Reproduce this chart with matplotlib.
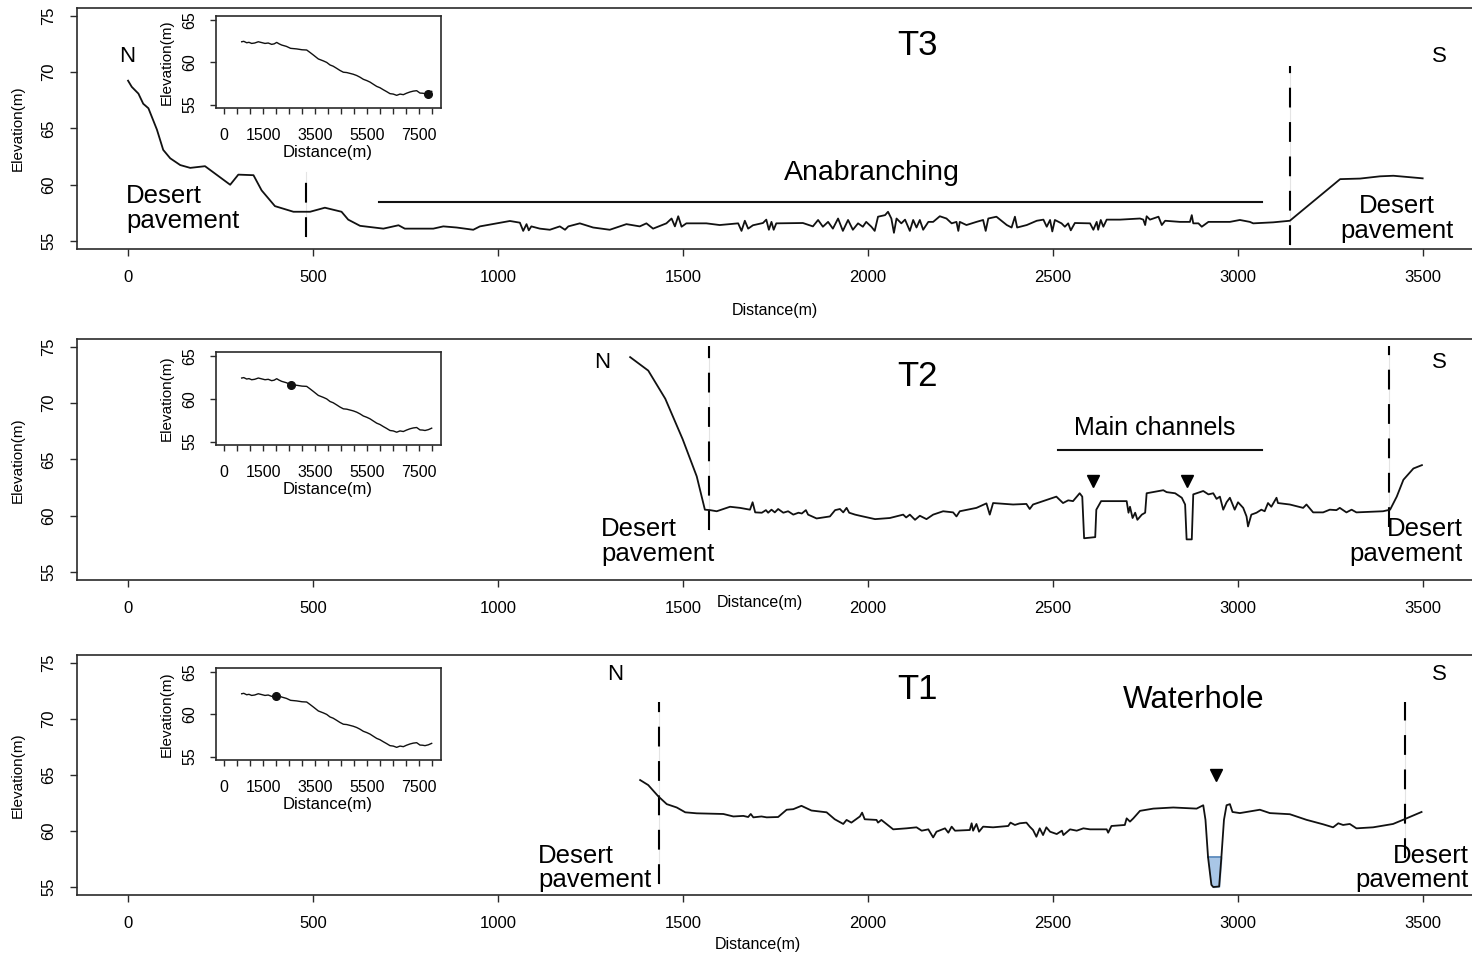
import numpy as np
import matplotlib
matplotlib.use('Agg')
import matplotlib.pyplot as plt

plt.rcParams['font.family'] = ['Liberation Sans', 'DejaVu Sans']

# ---------------------------------------------------------------
# transect profiles (distance m, elevation m)
t3_dist = [0, 10, 28, 41, 55, 78, 95, 114, 141, 168,
           208, 276, 298, 339, 361, 397, 447, 492, 532, 577,
           595, 627, 690, 731, 748, 825, 852, 888, 933, 951,
           996, 1032, 1059, 1068, 1077, 1083, 1090, 1113, 1140, 1167,
           1181, 1190, 1221, 1257, 1302, 1347, 1383, 1401, 1419, 1455,
           1469, 1478, 1487, 1496, 1509, 1563, 1599, 1649, 1658, 1667,
           1676, 1689, 1716, 1725, 1732, 1739, 1745, 1752, 1824, 1851,
           1865, 1878, 1892, 1905, 1919, 1932, 1946, 1959, 1973, 1986,
           1995, 2009, 2018, 2027, 2046, 2054, 2063, 2070, 2077, 2090,
           2100, 2113, 2122, 2131, 2140, 2149, 2163, 2176, 2194, 2212,
           2226, 2239, 2244, 2248, 2266, 2293, 2311, 2318, 2325, 2347,
           2375, 2388, 2397, 2403, 2429, 2456, 2474, 2483, 2492, 2498,
           2505, 2523, 2532, 2541, 2548, 2559, 2600, 2609, 2618, 2622,
           2629, 2636, 2645, 2681, 2735, 2744, 2749, 2753, 2762, 2785,
           2794, 2803, 2843, 2870, 2875, 2879, 2893, 2902, 2920, 2978,
           3005, 3032, 3041, 3059, 3095, 3140, 3276, 3330, 3384, 3420,
           3499]
t3_elev = [69.25, 68.7, 68.1, 67.2, 66.8, 64.9, 63.1, 62.35, 61.75, 61.5,
           61.65, 60.0, 60.9, 60.85, 59.5, 58.1, 57.6, 57.6, 57.96, 57.6,
           56.9, 56.35, 56.1, 56.4, 56.1, 56.1, 56.3, 56.2, 56.0, 56.3,
           56.57, 56.78, 56.63, 55.9, 56.5, 55.95, 56.3, 56.1, 56.0, 56.3,
           56.0, 56.3, 56.57, 56.2, 56.0, 56.5, 56.3, 56.57, 56.1, 56.57,
           57.0, 56.3, 57.2, 56.27, 56.57, 56.57, 56.42, 56.57, 55.9, 56.8,
           56.1, 56.4, 56.6, 56.9, 56.0, 56.7, 56.0, 56.57, 56.6, 56.3,
           56.87, 56.27, 56.7, 56.1, 57.0, 55.9, 56.87, 56.0, 56.57, 56.27,
           56.7, 56.27, 55.9, 57.16, 57.3, 57.6, 57.0, 55.73, 57.0, 56.57,
           56.9, 55.9, 56.87, 56.2, 56.87, 56.0, 56.7, 56.7, 57.2, 57.0,
           56.57, 56.7, 55.9, 56.7, 56.42, 56.7, 56.87, 55.9, 57.0, 57.16,
           56.42, 56.2, 57.16, 56.2, 56.42, 56.8, 56.9, 56.27, 56.87, 55.85,
           56.87, 56.57, 56.27, 56.57, 55.95, 56.6, 56.57, 56.0, 56.7, 56.0,
           56.87, 56.27, 56.9, 56.9, 57.0, 56.9, 56.42, 57.2, 56.9, 57.16,
           56.42, 56.8, 56.7, 56.7, 57.3, 56.57, 56.57, 56.27, 56.7, 56.7,
           56.87, 56.7, 56.57, 56.6, 56.66, 56.8, 60.5, 60.55, 60.75, 60.8,
           60.57]

t2_dist = [1357, 1406, 1452, 1499, 1537, 1559, 1573, 1591, 1627, 1654,
           1681, 1688, 1695, 1713, 1724, 1730, 1739, 1748, 1757, 1771,
           1784, 1798, 1812, 1821, 1832, 1838, 1861, 1897, 1911, 1924,
           1933, 1942, 1949, 1965, 1978, 2019, 2059, 2095, 2103, 2113,
           2127, 2140, 2158, 2176, 2203, 2230, 2239, 2248, 2293, 2320,
           2329, 2338, 2392, 2428, 2437, 2446, 2509, 2527, 2541, 2554,
           2572, 2579, 2584, 2614, 2617, 2630, 2699, 2704, 2708, 2715,
           2722, 2728, 2740, 2749, 2753, 2798, 2807, 2830, 2848, 2857,
           2861, 2875, 2879, 2888, 2906, 2920, 2933, 2942, 2951, 2960,
           2969, 2978, 2991, 3000, 3014, 3023, 3027, 3036, 3050, 3063,
           3072, 3081, 3090, 3104, 3108, 3140, 3176, 3185, 3203, 3230,
           3248, 3266, 3275, 3293, 3307, 3320, 3392, 3411, 3429, 3447,
           3474, 3497]
t2_elev = [74.1, 72.9, 70.4, 66.8, 63.5, 60.54, 60.5, 60.4, 60.8, 60.7,
           60.54, 61.2, 60.3, 60.27, 60.5, 60.27, 60.54, 60.3, 60.6, 60.27,
           60.4, 60.1, 60.27, 60.2, 60.5, 60.1, 59.76, 59.94, 60.5, 60.6,
           60.3, 60.7, 60.27, 60.1, 60.0, 59.7, 59.8, 60.1, 59.85, 60.1,
           59.64, 60.0, 59.7, 60.1, 60.4, 60.3, 59.94, 60.4, 60.7, 61.1,
           60.1, 61.13, 61.0, 61.05, 60.6, 61.0, 61.7, 61.13, 61.37, 61.3,
           62.0, 61.7, 58.0, 58.1, 60.54, 61.3, 61.3, 60.27, 60.8, 59.8,
           60.27, 59.64, 60.1, 60.27, 62.0, 62.27, 62.1, 62.0, 61.6, 61.0,
           57.9, 57.9, 61.9, 62.0, 62.2, 61.9, 62.0, 61.5, 61.7, 60.54,
           61.2, 61.6, 60.54, 61.2, 60.7, 59.94, 59.05, 60.1, 60.27, 60.54,
           60.4, 61.13, 60.8, 61.6, 61.13, 61.0, 60.7, 61.0, 60.3, 60.3,
           60.54, 60.5, 60.7, 60.3, 60.54, 60.3, 60.4, 60.54, 61.7, 63.2,
           64.2, 64.5]

t1_dist = [1384, 1406, 1433, 1456, 1483, 1506, 1537, 1609, 1636, 1663,
           1676, 1683, 1690, 1712, 1726, 1757, 1780, 1798, 1820, 1847,
           1888, 1910, 1933, 1942, 1955, 1978, 1984, 1991, 2023, 2027,
           2036, 2068, 2104, 2131, 2145, 2163, 2176, 2185, 2208, 2217,
           2226, 2235, 2275, 2280, 2284, 2293, 2300, 2311, 2338, 2379,
           2385, 2397, 2410, 2428, 2437, 2446, 2455, 2464, 2473, 2482,
           2492, 2510, 2524, 2528, 2546, 2564, 2582, 2600, 2645, 2649,
           2658, 2694, 2699, 2708, 2717, 2735, 2771, 2825, 2888, 2906,
           2912, 2919, 2928, 2933, 2949, 2955, 2962, 2969, 2978, 2985,
           3005, 3059, 3086, 3140, 3185, 3230, 3257, 3271, 3284, 3302,
           3320, 3365, 3419, 3446, 3496]
t1_elev = [64.55, 64.1, 63.1, 62.4, 62.1, 61.67, 61.58, 61.52, 61.3, 61.35,
           61.25, 61.52, 61.22, 61.3, 61.22, 61.25, 61.9, 61.95, 62.25, 61.83,
           61.67, 61.05, 60.63, 60.99, 60.75, 61.3, 61.64, 61.05, 60.99, 60.75,
           60.99, 60.15, 60.24, 60.33, 60.03, 60.15, 59.43, 59.94, 60.24, 59.85,
           60.39, 60.03, 60.09, 60.69, 60.03, 60.63, 59.94, 60.39, 60.33, 60.45,
           60.75, 60.54, 60.69, 60.75, 60.39, 60.09, 59.49, 60.24, 59.64, 60.33,
           59.94, 59.73, 60.03, 59.64, 60.15, 60.03, 60.24, 60.15, 60.15, 59.85,
           60.45, 60.54, 61.13, 60.84, 61.13, 61.8, 62.0, 62.1, 62.0, 62.3,
           61.0, 57.65, 55.2, 55.0, 55.05, 57.65, 61.0, 62.3, 62.4, 61.7,
           61.6, 61.9, 61.6, 61.5, 61.0, 60.6, 60.33, 60.69, 60.54, 60.63,
           60.24, 60.33, 60.63, 61.0, 61.7]
water_level = 57.65

# longitudinal profile shown in the insets
long_dist = [680, 760, 872, 960, 1064, 1180, 1320, 1450, 1577, 1700,
             1833, 1930, 2026, 2120, 2218, 2400, 2560, 2795, 3000, 3180,
             3300, 3436, 3628, 3821, 3950, 4077, 4200, 4333, 4460, 4590,
             4720, 4846, 4970, 5103, 5230, 5359, 5490, 5615, 5750, 5872,
             6000, 6128, 6250, 6385, 6510, 6641, 6770, 6897, 7020, 7154,
             7280, 7410, 7538, 7640, 7731, 7860, 7987]
long_elev = [62.45, 62.5, 62.33, 62.38, 62.25, 62.3, 62.45, 62.35, 62.25, 62.3,
             62.14, 62.2, 62.37, 62.2, 62.06, 61.9, 61.67, 61.6, 61.5, 61.47,
             61.2, 60.88, 60.41, 60.18, 60.0, 59.7, 59.55, 59.3, 59.05, 58.84,
             58.8, 58.7, 58.6, 58.45, 58.25, 58.0, 57.85, 57.67, 57.4, 57.16,
             57.0, 56.76, 56.55, 56.3, 56.25, 56.1, 56.25, 56.18, 56.35, 56.5,
             56.6, 56.65, 56.37, 56.35, 56.3, 56.4, 56.57]
# transect locations on the long profile (T3, T2, T1)
loc_dist = [7830, 2560, 2000]
loc_elev = [56.2, 61.67, 62.2]

# zone boundaries (x, y0, y1) per transect
t3_bounds = [(481, 55.35, 61.1), (3140, 54.64, 70.56)]
t2_bounds = [(1569, 58.75, 75.1), (3409, 59.0, 75.1)]
t1_bounds = [(1435, 55.3, 71.5), (3451, 57.6, 71.5)]

# channel markers
t2_marks_x = [2607, 2861]
t2_marks_y = [63.06, 63.06]
t1_marks_x = [2941]
t1_marks_y = [65.0]

x_ticks = [0, 500, 1000, 1500, 2000, 2500, 3000, 3500]
y_ticks = [55, 60, 65, 70, 75]
inset_ticks = list(range(0, 8001, 500))
inset_labels = ['0', '1500', '3500', '5500', '7500']

W, H = 1472, 955
LINE = '#111111'
SPINE = '#2a2a2a'
DP = 18.5   # 'Desert pavement' size


def fx(px):
    return px / W


def fy(py):
    return 1 - py / H


def make_panel(top, bottom, dist, elev, bounds):
    ax = fig.add_axes([fx(77), fy(bottom), fx(1480 - 77), (bottom - top) / H])
    ax.plot(dist, elev, color=LINE, lw=1.3, zorder=3)
    for xb, y0, y1 in bounds:
        ax.plot([xb, xb], [y0, y1], color='#e4e4e4', lw=0.8, zorder=1)
        ax.plot([xb, xb], [y0, y1], color='black', lw=1.5,
                ls=(0, (9.5, 7)), zorder=2)
    ax.set_xlim(-138, 3654)
    ax.set_ylim(54.29, 75.71)
    ax.set_xticks(x_ticks)
    ax.set_xticklabels([str(v) for v in x_ticks])
    ax.set_yticks(y_ticks)
    ax.set_yticklabels([str(v) for v in y_ticks], rotation=90, va='center')
    ax.tick_params(axis='x', direction='out', length=5, width=1,
                   labelsize=12, pad=10, color=SPINE)
    ax.tick_params(axis='y', direction='out', length=5, width=1,
                   labelsize=12, pad=10, color=SPINE)
    for s in ax.spines.values():
        s.set_linewidth(1.2)
        s.set_color(SPINE)
    return ax


def make_inset(top, bottom, dot):
    ax = fig.add_axes([fx(216), fy(bottom), fx(441 - 216), (bottom - top) / H])
    ax.plot(long_dist, long_elev, color=LINE, lw=1.0)
    ax.plot([loc_dist[dot]], [loc_elev[dot]], 'o', color='#111111', ms=5.5)
    ax.set_xlim(-308, 8346)
    ax.set_ylim(54.6, 65.5)
    ax.set_xticks(inset_ticks)
    ax.set_xticklabels([str(v) if str(v) in inset_labels else '' for v in inset_ticks])
    ax.set_yticks([55, 60, 65])
    ax.set_yticklabels(['55', '60', '65'], rotation=90, va='center')
    ax.tick_params(axis='x', direction='out', length=4.3, width=1,
                   labelsize=11.5, pad=10, color=SPINE)
    ax.tick_params(axis='y', direction='out', length=4.3, width=1,
                   labelsize=11.5, pad=9, color=SPINE)
    for s in ax.spines.values():
        s.set_linewidth(1.2)
        s.set_color(SPINE)
    cy = (top + bottom) / 2
    fig.text(fx(167), fy(cy), 'Elevation(m)', rotation=90, ha='center',
             va='center', fontsize=11)
    fig.text(fx(328), fy(bottom + 44), 'Distance(m)', ha='center',
             va='center', fontsize=12)
    return ax


fig = plt.figure(figsize=(W / 100, H / 100), dpi=100)

# =================================================
# T3
ax3 = make_panel(8, 249, t3_dist, t3_elev, t3_bounds)
ax3.text(-3, 71.4, 'N', fontsize=16, ha='center', va='center')
ax3.text(3543, 71.4, 'S', fontsize=16, ha='center', va='center')
ax3.text(2135, 72.4, 'T3', fontsize=25, ha='center', va='center')
ax3.text(-5, 57.85, 'Desert\npavement', fontsize=DP, ha='left',
         va='center', linespacing=1.05)
ax3.text(3430, 57.0, 'Desert\npavement', fontsize=DP, ha='center',
         va='center', linespacing=1.05, multialignment='center')
ax3.text(2011, 61.04, 'Anabranching', fontsize=20.5, ha='center', va='center')
ax3.plot([678, 3065], [58.47, 58.47], color=LINE, lw=1.5)
make_inset(16, 108, 0)
fig.text(fx(775), fy(310), 'Distance(m)', ha='center', va='center', fontsize=11.5)

# =================================================
# T2
ax2 = make_panel(339, 580, t2_dist, t2_elev, t2_bounds)
ax2.plot(t2_marks_x, t2_marks_y, 'v', color='black', ms=9, zorder=4)
ax2.text(1281, 73.66, 'N', fontsize=16, ha='center', va='center')
ax2.text(3543, 73.66, 'S', fontsize=16, ha='center', va='center')
ax2.text(2135, 72.4, 'T2', fontsize=25, ha='center', va='center')
ax2.text(1278, 57.68, 'Desert\npavement', fontsize=DP, ha='left',
         va='center', linespacing=1.05)
ax2.text(3608, 57.68, 'Desert\npavement', fontsize=DP, ha='right',
         va='center', linespacing=1.05, multialignment='right')
ax2.text(2776, 67.77, 'Main channels', fontsize=18, ha='center', va='center')
ax2.plot([2514, 3065], [65.8, 65.8], color=LINE, lw=1.5)
make_inset(352, 445, 1)
fig.text(fx(760), fy(603), 'Distance(m)', ha='center', va='center', fontsize=11.5)

# =================================================
# T1
ax1 = make_panel(655, 895, t1_dist, t1_elev, t1_bounds)
d1 = np.array(t1_dist)
e1 = np.array(t1_elev)
idx = (d1 >= 2919) & (d1 <= 2955)
ax1.fill_between(d1[idx], e1[idx], water_level, color='#a9c6e6', zorder=2)
ax1.plot([2919, 2955], [water_level, water_level], color='#5d8bbd', lw=1.3, zorder=2)
ax1.plot(t1_marks_x, t1_marks_y, 'v', color='black', ms=9, zorder=4)
ax1.text(1316, 74.0, 'N', fontsize=16, ha='center', va='center')
ax1.text(3543, 74.0, 'S', fontsize=16, ha='center', va='center')
ax1.text(2135, 72.6, 'T1', fontsize=25, ha='center', va='center')
ax1.text(2881, 71.7, 'Waterhole', fontsize=22.5, ha='center', va='center')
ax1.text(1414, 56.7, 'Desert\npavement', fontsize=DP, ha='right',
         va='center', linespacing=1.05, multialignment='left')
ax1.text(3624, 56.7, 'Desert\npavement', fontsize=DP, ha='right',
         va='center', linespacing=1.05, multialignment='right')
make_inset(668, 760, 2)
fig.text(fx(758), fy(944), 'Distance(m)', ha='center', va='center', fontsize=11.5)

# y-axis titles
for cy in [128, 460, 775]:
    fig.text(fx(18), fy(cy), 'Elevation(m)', rotation=90, ha='center',
             va='center', fontsize=11)

fig.savefig('out.png', dpi=100)
